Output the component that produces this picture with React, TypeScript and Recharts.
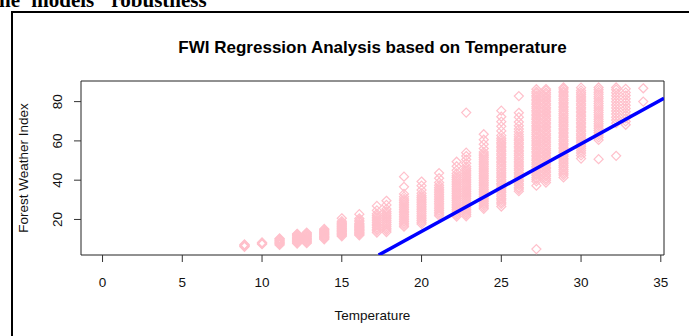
import { ScatterChart, Scatter, XAxis, YAxis, ReferenceArea } from 'recharts'

// temperature columns (°C, converted from whole °F readings)
const temperatures = [
  8.9, 10, 11.1, 12.2, 12.8, 13.9, 15, 16.1, 17.2, 17.8, 18.9, 20, 21.1, 22.2, 22.8,
  23.9, 25, 26.1, 27.2, 27.8, 28.9, 30, 31.1, 32.2, 32.8, 33.9,
]

// FWI readings per temperature column
const fwiByTemperature = [
  [6.1, 6.4, 6.8, 7.0, 7.3],
  [7.4, 7.7, 8.0, 8.3],
  [7.0, 7.5, 7.9, 8.3, 8.7, 9.2, 9.6, 10.0, 10.3],
  [7.7, 8.2, 8.6, 9.0, 9.4, 9.9, 10.3, 10.7, 11.1, 11.6, 12.0, 12.4, 12.7],
  [7.9, 8.4, 8.8, 9.3, 9.8, 10.2, 10.6, 11.1, 11.5, 12.0, 12.4, 12.9, 13.3],
  [9.9, 10.4, 10.8, 11.2, 11.6, 12.1, 12.5, 12.9, 13.3, 13.8, 14.2, 14.7, 15.2],
  [11.4, 11.9, 12.3, 12.7, 13.1, 13.6, 14.0, 14.4, 14.8, 15.3, 15.7, 16.1, 16.5, 17.0, 17.4, 17.9, 18.3, 19.1, 20.6],
  [11.9, 12.4, 12.8, 13.2, 13.6, 14.1, 14.5, 14.9, 15.3, 15.8, 16.2, 16.6, 17.0, 17.5, 17.9, 18.8, 19.6, 20.5, 22.7],
  [13.3, 14.2, 15.0, 15.9, 16.8, 17.6, 18.5, 19.4, 20.2, 21.1, 22.0, 22.9, 24.6, 26.9],
  [13.6, 14.6, 15.5, 16.5, 17.4, 18.4, 19.3, 20.3, 21.2, 22.2, 23.1, 24.1, 25.3, 27.4, 29.5],
  [16.3, 17.2, 18.1, 19.0, 19.8, 20.7, 21.6, 22.5, 23.4, 24.2, 25.1, 26.0, 26.9, 27.8, 28.6, 29.5, 30.4, 31.6, 33.0, 36.6, 41.8],
  [17.7, 18.6, 19.5, 20.4, 21.3, 22.2, 23.1, 24.0, 24.9, 25.8, 26.7, 27.6, 28.5, 29.4, 30.3, 31.2, 32.1, 33.3, 35.0, 37.2, 39.3],
  [21.9, 22.8, 23.7, 24.6, 25.5, 26.4, 27.3, 28.2, 29.1, 30.0, 30.9, 31.8, 32.7, 33.6, 34.5, 35.4, 36.3, 37.4, 38.8, 41.0, 43.6],
  [21.5, 22.4, 23.3, 24.2, 25.1, 26.0, 26.9, 27.8, 28.7, 29.6, 30.5, 31.4, 32.3, 33.2, 34.1, 35.0, 35.9, 36.8, 37.7, 38.6, 39.5, 40.4, 41.3, 42.2, 43.4, 45.0, 47.1, 49.4],
  [21.6, 22.5, 23.4, 24.3, 25.2, 26.1, 27.0, 27.9, 28.8, 29.7, 30.6, 31.5, 32.4, 33.3, 34.2, 35.1, 36.0, 36.9, 37.8, 38.7, 39.6, 40.5, 41.4, 42.3, 43.2, 44.1, 45.0, 45.9, 47.0, 48.6, 50.5, 52.3, 54.0, 74.4],
  [25.4, 26.3, 27.2, 28.1, 29.0, 29.9, 30.8, 31.7, 32.6, 33.5, 34.4, 35.3, 36.2, 37.1, 38.0, 38.9, 39.8, 40.7, 41.6, 42.5, 43.4, 44.3, 45.2, 46.1, 47.0, 47.9, 48.8, 49.7, 50.6, 51.5, 52.4, 53.3, 54.3, 56.1, 58.3, 60.6, 63.4],
  [26.6, 27.9, 28.8, 29.9, 30.7, 31.8, 32.6, 33.7, 34.5, 35.6, 36.4, 37.5, 38.3, 39.4, 40.2, 41.3, 42.1, 43.2, 44.0, 45.1, 45.9, 47.0, 47.8, 48.9, 49.7, 50.8, 51.6, 52.7, 53.5, 54.6, 55.4, 56.5, 57.3, 58.4, 59.2, 60.3, 61.4, 62.8, 65.1, 67.4, 69.8, 72.3, 75.4],
  [34.4, 35.5, 36.3, 37.4, 38.2, 39.3, 40.1, 41.2, 42.0, 43.1, 43.9, 45.0, 45.8, 46.9, 47.7, 48.8, 49.6, 50.7, 51.5, 52.6, 53.4, 54.5, 55.3, 56.4, 57.2, 58.3, 59.1, 60.2, 61.0, 62.1, 63.2, 64.6, 66.0, 67.7, 69.6, 72.1, 74.3, 82.8],
  [4.9, 37.2, 39.4, 40.5, 41.3, 42.4, 43.2, 44.3, 45.1, 46.2, 47.0, 48.1, 48.9, 50.0, 50.8, 51.9, 52.7, 53.8, 54.6, 55.7, 56.5, 57.6, 58.4, 59.5, 60.3, 61.4, 62.2, 63.3, 64.1, 65.2, 66.0, 67.1, 67.9, 69.0, 69.8, 70.9, 71.7, 72.8, 73.6, 74.7, 75.5, 76.6, 77.4, 78.5, 79.3, 80.4, 81.2, 82.3, 83.1, 84.2, 85.0, 86.3],
  [38.8, 40.0, 40.9, 42.0, 42.8, 43.9, 44.7, 45.8, 46.6, 47.7, 48.5, 49.6, 50.4, 51.5, 52.3, 53.4, 54.2, 55.3, 56.1, 57.2, 58.0, 59.1, 59.9, 61.0, 61.8, 62.9, 63.7, 64.8, 65.6, 66.7, 67.5, 68.6, 69.4, 70.5, 71.3, 72.4, 73.2, 74.3, 75.1, 76.2, 77.0, 78.1, 78.9, 80.0, 80.8, 81.9, 82.7, 83.8, 84.6, 85.7, 86.4],
  [41.4, 42.6, 43.5, 44.6, 45.4, 46.5, 47.3, 48.4, 49.2, 50.3, 51.1, 52.2, 53.0, 54.1, 54.9, 56.0, 56.8, 57.9, 58.7, 59.8, 60.6, 61.7, 62.5, 63.6, 64.4, 65.5, 66.3, 67.4, 68.2, 69.3, 70.1, 71.2, 72.0, 73.1, 73.9, 75.0, 75.8, 76.9, 77.7, 78.8, 79.6, 80.7, 81.5, 82.6, 83.4, 84.5, 85.3, 86.4, 87.2],
  [51.0, 52.6, 53.9, 55.0, 56.1, 57.2, 58.0, 59.1, 59.9, 61.0, 61.8, 62.9, 63.7, 64.8, 65.6, 66.7, 67.5, 68.6, 69.4, 70.5, 71.3, 72.4, 73.2, 74.3, 75.1, 76.2, 77.0, 78.1, 78.9, 80.0, 80.8, 81.9, 82.7, 83.8, 84.6, 85.7, 87.1],
  [50.7, 60.5, 61.8, 63.0, 64.1, 65.3, 66.4, 67.6, 68.7, 69.9, 71.0, 72.2, 73.3, 74.5, 75.6, 76.8, 77.9, 79.1, 80.2, 81.4, 82.5, 83.7, 84.8, 86.0, 87.2],
  [52.4, 69.0, 70.6, 72.1, 73.7, 75.2, 76.8, 78.3, 79.9, 81.4, 83.0, 84.5, 86.1, 87.2],
  [68.2, 69.9, 71.5, 73.2, 74.8, 76.5, 78.1, 79.8, 81.4, 83.1, 84.7, 86.5],
  [80.0, 86.8],
]

// fitted lm(FWI ~ Temperature)
const intercept = -75.3
const slope = 4.46

const xTicks = [0, 5, 10, 15, 20, 25, 30, 35]
const yTicks = [20, 40, 60, 80]
const xDomain: [number, number] = [-1.35, 35.2]
const yDomain: [number, number] = [1.9, 90.5]

const points = temperatures.flatMap((t, i) =>
  fwiByTemperature[i].map((v) => ({ temperature: t, fwi: v }))
)

// abline from where it enters the plot up to the right edge
const lineStart = (yDomain[0] - intercept) / slope
const regressionLine = [lineStart, xDomain[1]].map((t) => ({
  temperature: t,
  fwi: intercept + slope * t,
}))

const font = '"Liberation Sans", Arial, sans-serif'

function Diamond(props: any) {
  const { cx, cy } = props
  if (cx == null || cy == null) return <g />
  const r = 4.5
  return (
    <path
      d={`M${cx},${cy - r}L${cx + r},${cy}L${cx},${cy + r}L${cx - r},${cy}Z`}
      fill="none"
      stroke="#FFC0CB"
      strokeWidth={1.25}
    />
  )
}

function XTick(props: any) {
  const { x, y, payload } = props
  return (
    <text x={x} y={y + 23} textAnchor="middle" fontSize={13.5} fontFamily={font} fill="#111">
      {payload.value}
    </text>
  )
}

function YTick(props: any) {
  const { x, y, payload } = props
  const bx = x - 10
  return (
    <text
      x={bx}
      y={y}
      transform={`rotate(-90 ${bx} ${y})`}
      textAnchor="middle"
      fontSize={13.5}
      fontFamily={font}
      fill="#111"
    >
      {payload.value}
    </text>
  )
}

export default function App() {
  return (
    <div
      style={{
        position: 'absolute',
        left: 0,
        top: 0,
        width: 689,
        height: 336,
        overflow: 'hidden',
        background: '#fff',
        fontFamily: font,
      }}
    >
      <div
        style={{
          position: 'absolute',
          left: -8,
          top: -10,
          font: 'bold 21px "Liberation Serif", serif',
          lineHeight: '21px',
          whiteSpace: 'nowrap',
          wordSpacing: 6,
          color: '#000',
        }}
      >
        the models' robustness
      </div>
      <div
        style={{
          position: 'absolute',
          left: 11,
          top: 11,
          width: 700,
          height: 340,
          borderLeft: '2px solid #000',
          borderTop: '2px solid #000',
        }}
      />
      <div style={{ position: 'absolute', left: 0, top: 0 }}>
        <ScatterChart
          width={689}
          height={336}
          margin={{ top: 81, right: 25, bottom: 21, left: 10 }}
        >
          <XAxis
            type="number"
            dataKey="temperature"
            domain={xDomain}
            ticks={xTicks}
            interval={0}
            allowDataOverflow
            axisLine={false}
            tickLine={{ stroke: '#333' }}
            tickSize={7}
            height={60}
            tick={<XTick />}
          />
          <YAxis
            type="number"
            dataKey="fwi"
            domain={yDomain}
            ticks={yTicks}
            interval={0}
            allowDataOverflow
            axisLine={false}
            tickLine={{ stroke: '#333' }}
            tickSize={7}
            width={71}
            tick={<YTick />}
          />
          <ReferenceArea
            x1={xDomain[0]}
            x2={xDomain[1]}
            y1={yDomain[0]}
            y2={yDomain[1]}
            fill="none"
            fillOpacity={0}
            stroke="#222"
            strokeWidth={1}
            ifOverflow="visible"
          />
          <Scatter data={points} shape={<Diamond />} isAnimationActive={false} />
          <Scatter
            data={regressionLine}
            line={{ stroke: '#0000FF', strokeWidth: 3.5 }}
            shape={() => <g />}
            isAnimationActive={false}
          />
        </ScatterChart>
      </div>
      <svg
        width={689}
        height={336}
        style={{ position: 'absolute', left: 0, top: 0, pointerEvents: 'none' }}
      >
        <text x={372.5} y={53} textAnchor="middle" fontSize={17} fontWeight="bold" fontFamily={font} fill="#000">
          FWI Regression Analysis based on Temperature
        </text>
        <text x={372.5} y={320} textAnchor="middle" fontSize={13.5} fontFamily={font} fill="#111">
          Temperature
        </text>
        <text
          x={28}
          y={168}
          transform="rotate(-90 28 168)"
          textAnchor="middle"
          fontSize={13.5}
          fontFamily={font}
          fill="#111"
        >
          Forest Weather Index
        </text>
      </svg>
    </div>
  )
}
